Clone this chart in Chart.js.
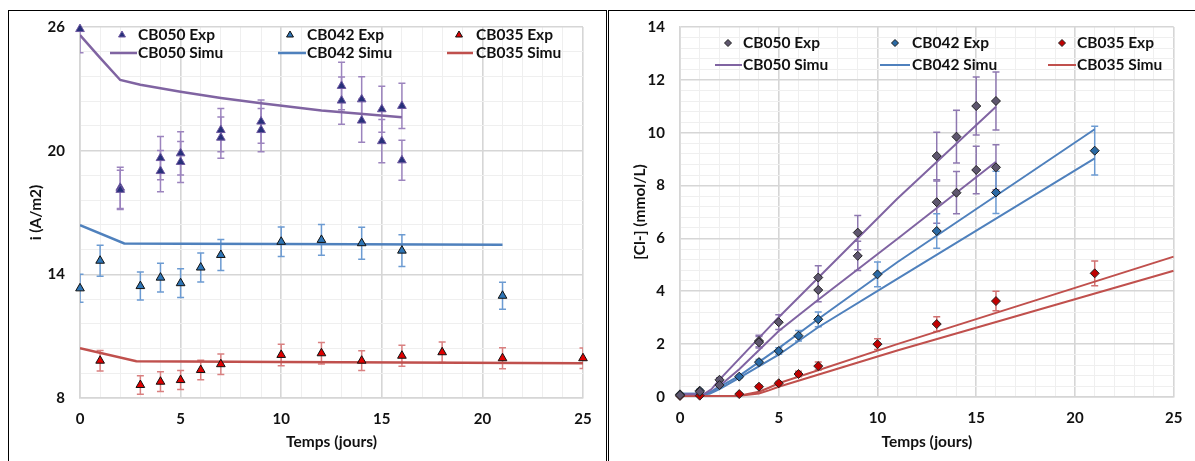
<!DOCTYPE html>
<html>
<head>
<meta charset="utf-8">
<script src="https://cdn.jsdelivr.net/npm/chart.js@4.4.1/dist/chart.umd.min.js"></script>
<style>
  body { margin: 0; background: #fff; width: 1195px; height: 461px; overflow: hidden; position: relative; }
  .frame { position: absolute; top: 10px; height: 480px; border: 1px solid #000; box-sizing: border-box; }
  #frameLeft { left: 8px; width: 599px; }
  #frameRight { left: 608px; width: 600px; }
  canvas { position: absolute; top: 0; }
  #currentChart { left: 0; }
  #chlorideChart { left: 609px; }
</style>
</head>
<body>
<div class="frame" id="frameLeft"></div>
<div class="frame" id="frameRight"></div>
<canvas id="currentChart" width="607" height="461"></canvas>
<canvas id="chlorideChart" width="586" height="461"></canvas>
<script>
// ---- left chart: current density i (A/m2) vs time ----
const cb050CurX = [0, 2, 2, 4, 4, 5, 5, 7, 7, 9, 9, 13, 13, 14, 14, 15, 15, 16, 16];
const cb050CurY = [25.9, 18.2, 18.1, 19.64, 19.01, 19.87, 19.45, 21.0, 20.63, 21.41, 21.0, 23.14, 22.43, 22.49, 21.46, 22.01, 20.46, 22.17, 19.53];
const cb050CurErr = [1.15, 1.0, 0.95, 1.05, 1.0, 1.05, 1.0, 1.05, 1.0, 1.05, 1.05, 1.15, 1.15, 1.1, 1.05, 1.12, 1.05, 1.1, 0.97];

const cb042CurX = [0, 1, 3, 4, 5, 6, 7, 10, 12, 14, 16, 21];
const cb042CurY = [13.32, 14.66, 13.43, 13.84, 13.57, 14.33, 14.94, 15.58, 15.67, 15.51, 15.15, 12.96];
const cb042CurErr = [0.68, 0.75, 0.68, 0.7, 0.7, 0.7, 0.75, 0.72, 0.75, 0.78, 0.77, 0.66];

const cb035CurX = [1, 3, 4, 5, 6, 7, 10, 12, 14, 16, 18, 21, 25];
const cb035CurY = [9.81, 8.63, 8.79, 8.87, 9.36, 9.64, 10.09, 10.17, 9.81, 10.05, 10.22, 9.93, 9.93];
const cb035CurErr = [0.5, 0.45, 0.48, 0.46, 0.47, 0.5, 0.52, 0.52, 0.48, 0.51, 0.5, 0.51, 0.5];

const cb050CurSimX = [0, 1, 2, 3, 5, 7, 9, 12, 16];
const cb050CurSimY = [25.61, 24.5, 23.43, 23.2, 22.86, 22.56, 22.3, 21.95, 21.62];
const cb042CurSimX = [0, 2.2, 5, 10, 21];
const cb042CurSimY = [16.39, 15.5, 15.48, 15.47, 15.44];
const cb035CurSimX = [0, 2.8, 10, 25];
const cb035CurSimY = [10.41, 9.78, 9.75, 9.68];

// ---- right chart: [Cl-] (mmol/L) vs time ----
const cb050ClX = [0, 1, 2, 2, 4, 4, 5, 7, 7, 9, 9, 13, 13, 14, 14, 15, 15, 16, 16];
const cb050ClY = [0.07, 0.2, 0.65, 0.45, 2.12, 2.07, 2.83, 4.52, 4.05, 6.22, 5.34, 9.12, 7.37, 9.85, 7.73, 11.01, 8.59, 11.2, 8.69];
const cb050ClErr = [0.03, 0.05, 0.08, 0.08, 0.22, 0.22, 0.28, 0.45, 0.45, 0.65, 0.55, 0.9, 0.8, 1.0, 0.8, 1.1, 0.9, 1.1, 0.85];

const cb042ClX = [0, 1, 3, 4, 5, 6, 7, 10, 13, 16, 21];
const cb042ClY = [0.1, 0.24, 0.77, 1.32, 1.74, 2.32, 2.94, 4.64, 6.28, 7.74, 9.32];
const cb042ClErr = [0.03, 0.05, 0.05, 0.1, 0.12, 0.2, 0.28, 0.47, 0.65, 0.8, 0.92];

const cb035ClX = [0, 1, 3, 4, 5, 6, 7, 10, 13, 16, 21];
const cb035ClY = [0.04, 0.05, 0.11, 0.39, 0.52, 0.87, 1.17, 2.0, 2.76, 3.63, 4.68];
const cb035ClErr = [0.02, 0.02, 0.03, 0.05, 0.07, 0.1, 0.15, 0.2, 0.28, 0.37, 0.47];

// two simulated curves per sample
const cb050ClSimAX = [0, 1.2, 1.6, 2, 5, 11, 16];
const cb050ClSimAY = [0.1, 0.1, 0.3, 0.66, 3.02, 7.5, 10.98];
const cb050ClSimBX = [0, 1.3, 1.7, 2, 3, 5, 7, 11, 16];
const cb050ClSimBY = [0.1, 0.1, 0.25, 0.42, 1.05, 2.5, 3.68, 5.98, 8.9];
const cb042ClSimAX = [0, 1.4, 2, 3, 5, 7, 11, 21];
const cb042ClSimAY = [0.12, 0.12, 0.38, 0.8, 1.85, 2.95, 5.1, 10.13];
const cb042ClSimBX = [0, 1.5, 2, 3, 5, 7, 11, 21];
const cb042ClSimBY = [0.12, 0.12, 0.3, 0.72, 1.6, 2.64, 4.47, 9.03];
const cb035ClSimAX = [0, 3, 4, 4.5, 5, 11, 25];
const cb035ClSimAY = [0.04, 0.05, 0.2, 0.35, 0.52, 2.0, 5.31];
const cb035ClSimBX = [0, 3, 4, 4.5, 5, 11, 25];
const cb035ClSimBY = [0.04, 0.05, 0.13, 0.25, 0.39, 1.76, 4.78];

const seriesNames = ['CB050 Exp', 'CB042 Exp', 'CB035 Exp', 'CB050 Simu', 'CB042 Simu', 'CB035 Simu'];
const xTitle = 'Temps (jours)';

const PURPLE = '#8064A2', BLUE = '#4F81BD', RED = '#C0504D';

Chart.defaults.font.family = 'Lato';
Chart.defaults.font.size = 15;
Chart.defaults.font.weight = 'bold';
Chart.defaults.color = '#111111';

const titleFont = {size: 15.5, weight: 'bold'};
const pts = (xs, ys) => xs.map((x, i) => ({x: x, y: ys[i]}));

// vertical error bars, drawn under the markers
const errorBars = {
  id: 'errorBars',
  beforeDatasetsDraw(chart) {
    const {ctx, chartArea, scales} = chart;
    ctx.save();
    ctx.beginPath();
    ctx.rect(chartArea.left, chartArea.top, chartArea.width, chartArea.height);
    ctx.clip();
    chart.data.datasets.forEach(ds => {
      if (!ds.errors) return;
      ctx.strokeStyle = ds.errorColor;
      ctx.lineWidth = 1.5;
      ds.data.forEach((p, j) => {
        const px = scales.x.getPixelForValue(p.x);
        const top = scales.y.getPixelForValue(p.y + ds.errors[j]);
        const bot = scales.y.getPixelForValue(p.y - ds.errors[j]);
        ctx.beginPath();
        ctx.moveTo(px, top); ctx.lineTo(px, bot);
        ctx.moveTo(px - 3.5, top); ctx.lineTo(px + 3.5, top);
        ctx.moveTo(px - 3.5, bot); ctx.lineTo(px + 3.5, bot);
        ctx.stroke();
      });
    });
    ctx.restore();
  }
};

// legend inside the plot, 3 columns x 2 rows
function boxLegend(layout) {
  return {
    id: 'boxLegend',
    afterDraw(chart) {
      const {ctx, chartArea} = chart;
      const sets = chart.data.datasets;
      ctx.save();
      ctx.font = 'bold 15.5px Lato';
      ctx.textBaseline = 'middle';
      for (let c = 0; c < 3; c++) {
        const ds = sets[c];
        const y0 = chartArea.top + layout.rows[0];
        const y1 = chartArea.top + layout.rows[1];
        ctx.fillStyle = ds.backgroundColor;
        ctx.strokeStyle = ds.borderColor;
        ctx.lineWidth = 1;
        Chart.helpers.drawPoint(ctx, {pointStyle: ds.pointStyle, radius: layout.markerRadius, borderWidth: 1, rotation: 0},
          chartArea.left + layout.marker[c], y0);
        ctx.strokeStyle = sets[layout.lineSet[c]].borderColor;
        ctx.lineWidth = layout.lineWidth;
        ctx.beginPath();
        ctx.moveTo(chartArea.left + layout.line[c][0], y1);
        ctx.lineTo(chartArea.left + layout.line[c][1], y1);
        ctx.stroke();
        ctx.fillStyle = '#111111';
        ctx.fillText(seriesNames[c], chartArea.left + layout.text[c], y0);
        ctx.fillText(seriesNames[c + 3], chartArea.left + layout.text[c], y1);
      }
      ctx.restore();
    }
  };
}

function fixedBox(width, height) {
  return s => { if (width !== null) s.width = width; if (height !== null) s.height = height; };
}

function gridOpts(isMajor) {
  return {
    drawTicks: false,
    color: c => isMajor(c.tick.value) ? '#D6D6D6' : '#EFEFEF',
    lineWidth: c => isMajor(c.tick.value) ? 1.6 : 1
  };
}

const nearInt = v => Math.abs(v - Math.round(v)) < 1e-6;
const xMajor = v => nearInt(v / 5);

function expSet(xs, ys, errs, style, fill, border, errColor, radius) {
  return {
    data: pts(xs, ys), errors: errs, errorColor: errColor,
    pointStyle: style, pointRadius: radius, pointBackgroundColor: fill, pointBorderColor: border,
    backgroundColor: fill, borderColor: border, pointBorderWidth: 1, showLine: false, clip: false
  };
}
function simSet(xs, ys, color, width) {
  return {
    data: pts(xs, ys), showLine: true, borderColor: color, backgroundColor: color,
    borderWidth: width, pointRadius: 0, tension: 0, fill: false
  };
}

// left chart
const leftYMajor = v => nearInt((v - 8) / 6);
new Chart(document.getElementById('currentChart'), {
  type: 'scatter',
  data: {
    datasets: [
      expSet(cb050CurX, cb050CurY, cb050CurErr, 'triangle', '#27307A', '#6E58A0', '#9C84BE', 5),
      expSet(cb042CurX, cb042CurY, cb042CurErr, 'triangle', '#2E75B6', '#111111', '#6C9BD2', 5),
      expSet(cb035CurX, cb035CurY, cb035CurErr, 'triangle', '#E00000', '#111111', '#D98080', 5),
      simSet(cb050CurSimX, cb050CurSimY, PURPLE, 2.5),
      simSet(cb042CurSimX, cb042CurSimY, BLUE, 2.5),
      simSet(cb035CurSimX, cb035CurSimY, RED, 2.5)
    ]
  },
  options: {
    responsive: false,
    animation: false,
    layout: {padding: {left: 0, top: 27, right: 24, bottom: 0}},
    plugins: {legend: {display: false}, tooltip: {enabled: false}},
    scales: {
      x: {
        type: 'linear', min: 0, max: 25,
        ticks: {stepSize: 1, autoSkip: false, maxRotation: 0, padding: 12.6, callback: v => xMajor(v) ? v : ''},
        grid: gridOpts(xMajor),
        border: {color: '#D6D6D6', width: 1.6},
        title: {display: true, text: xTitle, font: titleFont, padding: {top: 0, bottom: 9.7}},
        afterFit: fixedBox(null, 63)
      },
      y: {
        type: 'linear', min: 8, max: 26,
        ticks: {stepSize: 1.2, autoSkip: false, padding: 15, callback: v => leftYMajor(v) ? Math.round(v) : ''},
        grid: gridOpts(leftYMajor),
        border: {color: '#D6D6D6', width: 1.6},
        title: {display: true, text: 'i (A/m2)', font: titleFont, padding: {top: 26.7, bottom: 0}},
        afterFit: fixedBox(80, null)
      }
    }
  },
  plugins: [errorBars, boxLegend({
    rows: [8, 26], marker: [42, 210, 379], text: [58, 227, 396],
    line: [[30, 57], [198, 226], [367, 393]], lineSet: [3, 4, 5], markerRadius: 4, lineWidth: 2.5
  })]
});

// right chart
const rightYMajor = v => nearInt(v / 2);
new Chart(document.getElementById('chlorideChart'), {
  type: 'scatter',
  data: {
    datasets: [
      expSet(cb050ClX, cb050ClY, cb050ClErr, 'rectRot', '#5E566E', '#222222', '#8E78B0', 4.5),
      expSet(cb042ClX, cb042ClY, cb042ClErr, 'rectRot', '#2A6AA5', '#1a1a1a', '#6C9BD2', 4.5),
      expSet(cb035ClX, cb035ClY, cb035ClErr, 'rectRot', '#C00000', '#222222', '#D07070', 4.5),
      simSet(cb050ClSimAX, cb050ClSimAY, PURPLE, 2),
      simSet(cb042ClSimAX, cb042ClSimAY, BLUE, 2),
      simSet(cb035ClSimAX, cb035ClSimAY, RED, 2),
      simSet(cb050ClSimBX, cb050ClSimBY, PURPLE, 2),
      simSet(cb042ClSimBX, cb042ClSimBY, BLUE, 2),
      simSet(cb035ClSimBX, cb035ClSimBY, RED, 2)
    ]
  },
  options: {
    responsive: false,
    animation: false,
    layout: {padding: {left: 0, top: 27, right: 12, bottom: 0}},
    plugins: {legend: {display: false}, tooltip: {enabled: false}},
    scales: {
      x: {
        type: 'linear', min: 0, max: 25,
        ticks: {stepSize: 1, autoSkip: false, maxRotation: 0, padding: 12.6, callback: v => xMajor(v) ? v : ''},
        grid: gridOpts(xMajor),
        border: {color: '#D6D6D6', width: 1.6},
        title: {display: true, text: xTitle, font: titleFont, padding: {top: 0, bottom: 9.7}},
        afterFit: fixedBox(null, 64)
      },
      y: {
        type: 'linear', min: 0, max: 14,
        ticks: {stepSize: 0.4, autoSkip: false, padding: 15, callback: v => rightYMajor(v) ? Math.round(v) : ''},
        grid: gridOpts(rightYMajor),
        border: {color: '#D6D6D6', width: 1.6},
        title: {display: true, text: '[Cl-] (mmol/L)', font: titleFont, padding: {top: 21.7, bottom: 0}},
        afterFit: fixedBox(71, null)
      }
    }
  },
  plugins: [errorBars, boxLegend({
    rows: [16, 38], marker: [48, 215, 382], text: [63, 232, 397],
    line: [[35, 62], [200, 230], [368, 396]], lineSet: [3, 4, 5], markerRadius: 3.5, lineWidth: 2
  })]
});
</script>
</body>
</html>
